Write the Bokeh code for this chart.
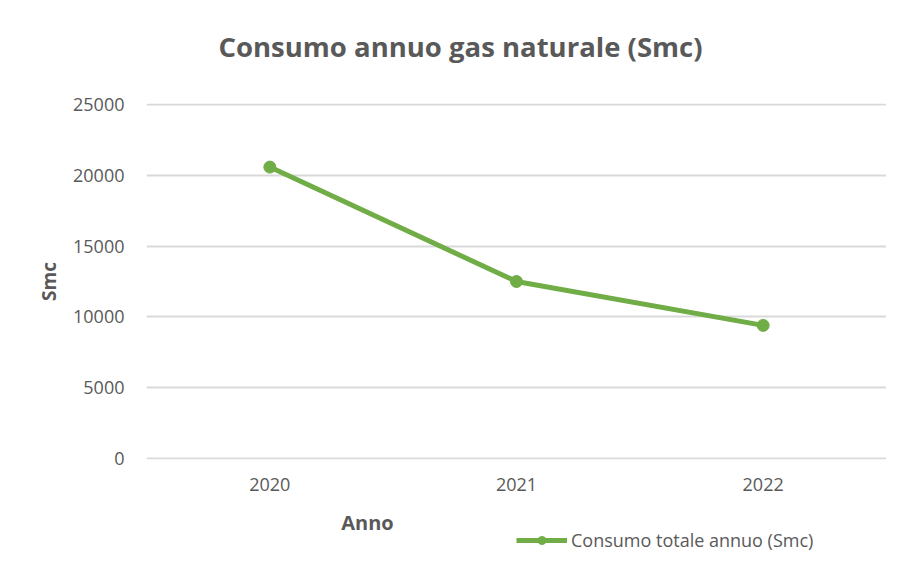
from bokeh.plotting import figure
from bokeh.layouts import column
from bokeh.models import (ColumnDataSource, Range1d, FixedTicker, Label, Legend, LegendItem)
from bokeh.embed import file_html
from bokeh.resources import INLINE

# Data
years = ["2020", "2021", "2022"]
consumo = [20580, 12500, 9400]
y_ticks = [0, 5000, 10000, 15000, 20000, 25000]

title_text = "Consumo annuo gas naturale (Smc)"
x_label = "Anno"
y_label = "Smc"
series_name = "Consumo totale annuo (Smc)"

GREEN = "#70AD47"
GREY = "#595959"
GRID = "#D9D9D9"
FONT = "Open Sans"

src = ColumnDataSource(dict(x=years, y=consumo))


def strip(h, yr):
    f = figure(x_range=years, y_range=yr, frame_width=740, frame_height=h,
               output_backend="svg", toolbar_location=None, title=None,
               x_axis_location=None, y_axis_location=None,
               min_border_left=146, min_border_right=0, min_border_top=0, min_border_bottom=0)
    f.outline_line_color = None
    f.grid.visible = False
    f.background_fill_color = "white"
    f.border_fill_color = "white"
    return f


# ---- title strip ----
p0 = strip(79, Range1d(-2, -1))
p0.add_layout(Label(x=314, y=33, x_units="screen", y_units="screen", text=title_text,
                    text_align="center", text_baseline="middle", text_font=FONT,
                    text_font_size="27.5px", text_font_style="bold", text_color=GREY))

# ---- main chart ----
p = figure(x_range=years, y_range=Range1d(-71, 25071), frame_width=740, frame_height=356,
           output_backend="svg", toolbar_location=None, title=None,
           min_border_left=146, min_border_right=0, min_border_top=24, min_border_bottom=45)
p.outline_line_color = None
p.background_fill_color = "white"
p.border_fill_color = "white"

ln = p.line("x", "y", source=src, line_color=GREEN, line_width=5)
pt = p.scatter("x", "y", source=src, size=12, marker="circle", fill_color=GREEN, line_color=GREEN)

p.yaxis.ticker = FixedTicker(ticks=y_ticks)
p.yaxis.axis_line_color = None
p.yaxis.major_tick_line_color = None
p.yaxis.minor_tick_line_color = None
p.yaxis.major_label_standoff = 16
p.yaxis.major_label_text_font = FONT
p.yaxis.major_label_text_font_size = "18px"
p.yaxis.major_label_text_color = GREY
p.yaxis.axis_label = y_label
p.yaxis.axis_label_text_font = FONT
p.yaxis.axis_label_text_font_style = "bold"
p.yaxis.axis_label_text_font_size = "19px"
p.yaxis.axis_label_text_color = GREY
p.yaxis.axis_label_standoff = 8

p.xaxis.axis_line_color = None
p.xaxis.major_tick_line_color = None
p.xaxis.minor_tick_line_color = None
p.xaxis.major_label_standoff = 12
p.xaxis.major_label_text_font = FONT
p.xaxis.major_label_text_font_size = "18px"
p.xaxis.major_label_text_color = GREY

p.xgrid.grid_line_color = None
p.ygrid.grid_line_color = GRID
p.ygrid.grid_line_width = 2

# ---- strip below: x label and legend ----
p2 = strip(58, Range1d(-2, -1))
ln2 = p2.line("x", "y", source=src, line_color=GREEN, line_width=5)
pt2 = p2.scatter("x", "y", source=src, size=12, marker="circle", fill_color=GREEN, line_color=GREEN)

p2.add_layout(Label(x=221, y=40, x_units="screen", y_units="screen", text=x_label,
                    text_align="center", text_baseline="middle", text_font=FONT,
                    text_font_size="20px", text_font_style="bold", text_color=GREY))

legend = Legend(items=[LegendItem(label=series_name, renderers=[ln2, pt2])],
                location=(370, 10), padding=0, margin=0, spacing=0,
                glyph_width=51, glyph_height=20, label_standoff=4,
                label_text_font=FONT, label_text_font_size="18px", label_text_color=GREY,
                border_line_color=None, background_fill_alpha=0)
p2.add_layout(legend, "center")

open("out.html", "w").write(file_html(column(p0, p, p2, spacing=0), INLINE))
